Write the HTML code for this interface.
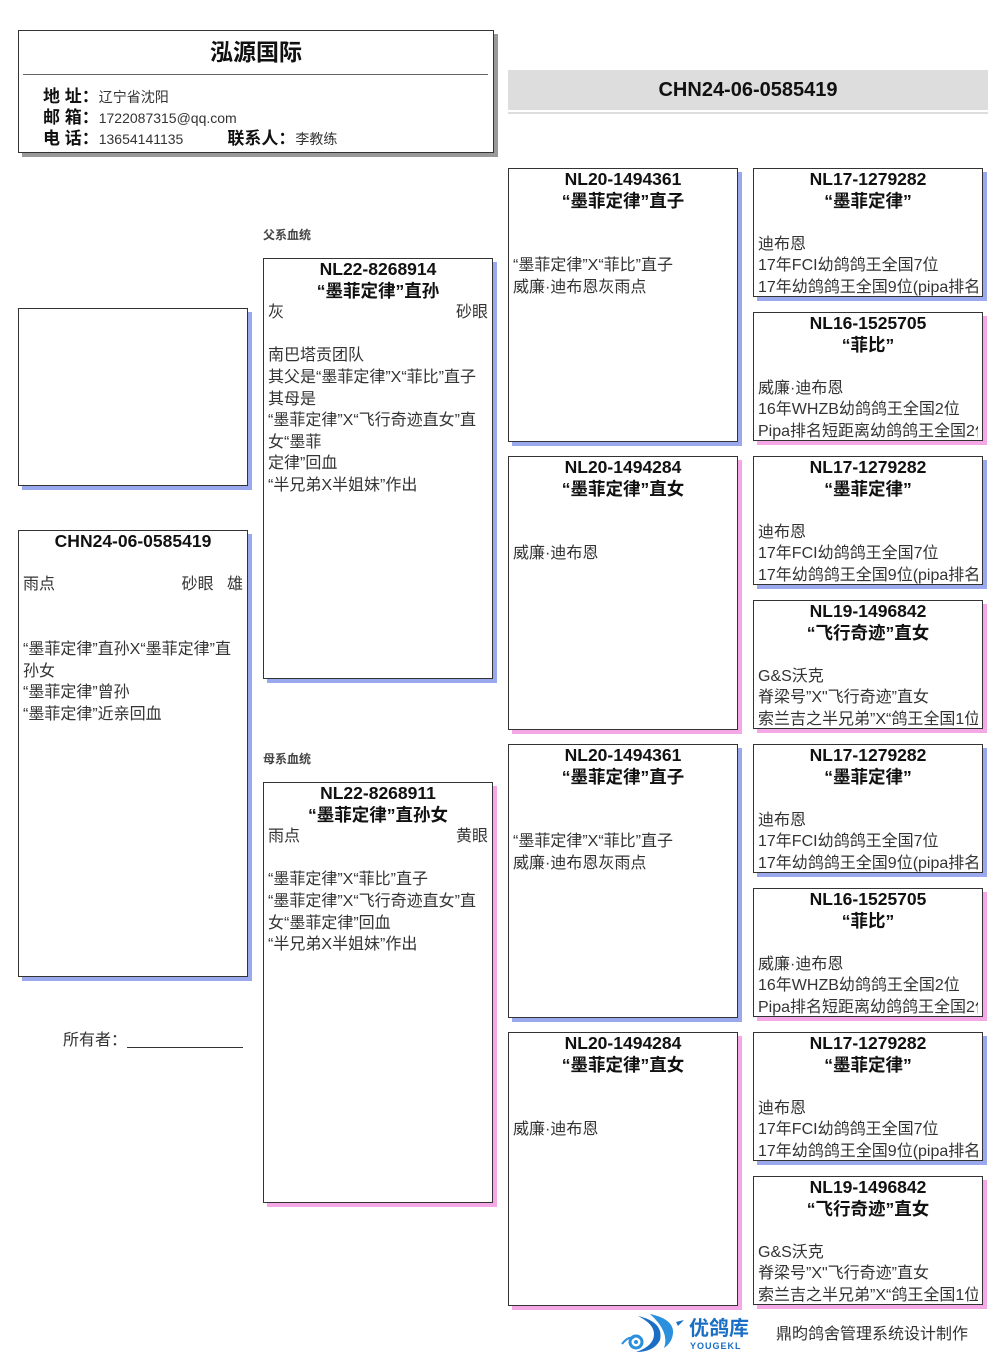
<!DOCTYPE html>
<html><head><meta charset="utf-8">
<style>
*{margin:0;padding:0;box-sizing:border-box}
body{width:1006px;height:1366px;background:#fff;position:relative;overflow:hidden;font-family:"Liberation Sans","Noto Sans CJK SC",sans-serif;color:#333}
.b{position:absolute;background:#fff;border:1px solid #333;overflow:hidden;font-size:16px;line-height:21.6px;padding:0 4px}
.bl{box-shadow:4px 4px 0 #9aa8ee}
.pk{box-shadow:4px 4px 0 #f4a8e6}
.t{font-weight:bold;color:#111;text-align:center;font-size:17.5px;white-space:nowrap}
.l{white-space:nowrap;min-height:21.6px;overflow:hidden}
.sp{display:flex;justify-content:space-between;white-space:nowrap}
.lab{position:absolute;font-size:12px;font-weight:bold;color:#444}
</style></head><body>

<div style="position:absolute;left:18px;top:30px;width:476px;height:123px;border:1px solid #333;background:#fff;box-shadow:4px 4px 0 #999">
  <div style="text-align:center;font-size:23px;font-weight:bold;color:#111;margin-top:2px">泓源国际</div>
  <div style="position:absolute;left:4px;right:5px;top:43px;border-top:1px solid #666"></div>
  <div style="position:absolute;left:24px;top:56px;font-size:17px;line-height:20.8px;color:#111;white-space:nowrap">
    <div><b>地 址：</b><span style="font-size:14px;color:#333">辽宁省沈阳</span></div>
    <div><b>邮 箱：</b><span style="font-size:14px;color:#333">1722087315@qq.com</span></div>
    <div><b>电 话：</b><span style="font-size:14px;color:#333">13654141135</span><b style="margin-left:44px">联系人：</b><span style="font-size:14px;color:#333">李教练</span></div>
  </div>
</div>

<div style="position:absolute;left:508px;top:70px;width:480px;height:40px;background:#ddd;text-align:center;font-weight:bold;font-size:20px;line-height:40px;color:#111">CHN24-06-0585419</div>
<div style="position:absolute;left:508px;top:112px;width:480px;height:2px;background:#ddd"></div>

<div class="b bl" style="left:18px;top:308px;width:230px;height:178px"></div>

<div class="b bl" style="left:18px;top:530px;width:230px;height:447px">
  <div class="t">CHN24-06-0585419</div><div class="l"></div>
  <div class="sp"><span>雨点</span><span>砂眼&nbsp;&nbsp;&nbsp;雄</span></div>
  <div class="l"></div><div class="l"></div>
  <div class="l">“墨菲定律”直孙X“墨菲定律”直</div>
  <div class="l">孙女</div><div class="l">“墨菲定律”曾孙</div><div class="l">“墨菲定律”近亲回血</div>
</div>

<div style="position:absolute;left:63px;top:1026px;font-size:16px;color:#333;white-space:nowrap">所有者：<span style="display:inline-block;width:116px;border-bottom:1px solid #333;vertical-align:-3px"></span></div>

<div class="lab" style="left:263px;top:226px">父系血统</div>
<div class="b bl" style="left:263px;top:258px;width:230px;height:421px">
  <div class="t">NL22-8268914</div><div class="t">“墨菲定律”直孙</div>
  <div class="sp"><span>灰</span><span>砂眼</span></div><div class="l"></div>
  <div class="l">南巴塔贡团队</div><div class="l">其父是“墨菲定律”X“菲比”直子</div><div class="l">其母是</div>
  <div class="l">“墨菲定律”X“飞行奇迹直女”直</div><div class="l">女“墨菲</div><div class="l">定律”回血</div><div class="l">“半兄弟X半姐妹”作出</div>
</div>

<div class="lab" style="left:263px;top:750px">母系血统</div>
<div class="b pk" style="left:263px;top:782px;width:230px;height:421px">
  <div class="t">NL22-8268911</div><div class="t">“墨菲定律”直孙女</div>
  <div class="sp"><span>雨点</span><span>黄眼</span></div><div class="l"></div>
  <div class="l">“墨菲定律”X“菲比”直子</div><div class="l">“墨菲定律”X“飞行奇迹直女”直</div><div class="l">女“墨菲定律”回血</div><div class="l">“半兄弟X半姐妹”作出</div>
</div>

<div class="b bl" style="left:508px;top:168px;width:230px;height:274px">
  <div class="t">NL20-1494361</div><div class="t">“墨菲定律”直子</div><div class="l"></div><div class="l"></div>
  <div class="l">“墨菲定律”X“菲比”直子</div><div class="l">威廉·迪布恩灰雨点</div>
</div>
<div class="b pk" style="left:508px;top:456px;width:230px;height:274px">
  <div class="t">NL20-1494284</div><div class="t">“墨菲定律”直女</div><div class="l"></div><div class="l"></div>
  <div class="l">威廉·迪布恩</div>
</div>
<div class="b bl" style="left:508px;top:744px;width:230px;height:274px">
  <div class="t">NL20-1494361</div><div class="t">“墨菲定律”直子</div><div class="l"></div><div class="l"></div>
  <div class="l">“墨菲定律”X“菲比”直子</div><div class="l">威廉·迪布恩灰雨点</div>
</div>
<div class="b pk" style="left:508px;top:1032px;width:230px;height:274px">
  <div class="t">NL20-1494284</div><div class="t">“墨菲定律”直女</div><div class="l"></div><div class="l"></div>
  <div class="l">威廉·迪布恩</div>
</div>

<div class="b bl" style="left:753px;top:168px;width:230px;height:129px">
  <div class="t">NL17-1279282</div><div class="t">“墨菲定律”</div><div class="l"></div>
  <div class="l">迪布恩</div><div class="l">17年FCI幼鸽鸽王全国7位</div><div class="l">17年幼鸽鸽王全国9位(pipa排名)</div>
</div>
<div class="b pk" style="left:753px;top:312px;width:230px;height:129px">
  <div class="t">NL16-1525705</div><div class="t">“菲比”</div><div class="l"></div>
  <div class="l">威廉·迪布恩</div><div class="l">16年WHZB幼鸽鸽王全国2位</div><div class="l">Pipa排名短距离幼鸽鸽王全国2位</div>
</div>
<div class="b bl" style="left:753px;top:456px;width:230px;height:129px">
  <div class="t">NL17-1279282</div><div class="t">“墨菲定律”</div><div class="l"></div>
  <div class="l">迪布恩</div><div class="l">17年FCI幼鸽鸽王全国7位</div><div class="l">17年幼鸽鸽王全国9位(pipa排名)</div>
</div>
<div class="b pk" style="left:753px;top:600px;width:230px;height:129px">
  <div class="t">NL19-1496842</div><div class="t">“飞行奇迹”直女</div><div class="l"></div>
  <div class="l">G&amp;S沃克</div><div class="l">脊梁号”X"飞行奇迹”直女</div><div class="l">索兰吉之半兄弟”X“鸽王全国1位</div>
</div>
<div class="b bl" style="left:753px;top:744px;width:230px;height:129px">
  <div class="t">NL17-1279282</div><div class="t">“墨菲定律”</div><div class="l"></div>
  <div class="l">迪布恩</div><div class="l">17年FCI幼鸽鸽王全国7位</div><div class="l">17年幼鸽鸽王全国9位(pipa排名)</div>
</div>
<div class="b pk" style="left:753px;top:888px;width:230px;height:129px">
  <div class="t">NL16-1525705</div><div class="t">“菲比”</div><div class="l"></div>
  <div class="l">威廉·迪布恩</div><div class="l">16年WHZB幼鸽鸽王全国2位</div><div class="l">Pipa排名短距离幼鸽鸽王全国2位</div>
</div>
<div class="b bl" style="left:753px;top:1032px;width:230px;height:129px">
  <div class="t">NL17-1279282</div><div class="t">“墨菲定律”</div><div class="l"></div>
  <div class="l">迪布恩</div><div class="l">17年FCI幼鸽鸽王全国7位</div><div class="l">17年幼鸽鸽王全国9位(pipa排名)</div>
</div>
<div class="b pk" style="left:753px;top:1176px;width:230px;height:129px">
  <div class="t">NL19-1496842</div><div class="t">“飞行奇迹”直女</div><div class="l"></div>
  <div class="l">G&amp;S沃克</div><div class="l">脊梁号”X"飞行奇迹”直女</div><div class="l">索兰吉之半兄弟”X“鸽王全国1位</div>
</div>

<svg style="position:absolute;left:620px;top:1312px" width="66" height="42" viewBox="0 0 66 42">
  <path d="M18 4 Q44 10 40 28 Q34 40 16 40 Q34 34 34 22 Q34 12 18 4Z" fill="#1a6fc4"/>
  <path d="M30 2 Q58 8 52 26 Q50 32 44 36 Q50 20 30 2Z" fill="#2a90dd"/>
  <path d="M56 10 L64 8 L58 14Z" fill="#1a6fc4"/>
  <circle cx="16" cy="30" r="6" fill="none" stroke="#2a90dd" stroke-width="3"/>
  <circle cx="16" cy="30" r="2" fill="#2a90dd"/>
  <path d="M2 32 Q8 24 14 26" fill="none" stroke="#2a90dd" stroke-width="2"/>
</svg>
<div style="position:absolute;left:689px;top:1318px;font-size:20px;font-weight:bold;color:#1a6fc4;line-height:22px">优鸽库</div>
<div style="position:absolute;left:690px;top:1341px;font-size:9px;font-weight:bold;color:#1a6fc4;letter-spacing:1px">YOUGEKL</div>
<div style="position:absolute;left:776px;top:1320px;font-size:16px;color:#333;white-space:nowrap">鼎昀鸽舍管理系统设计制作</div>

</body></html>
